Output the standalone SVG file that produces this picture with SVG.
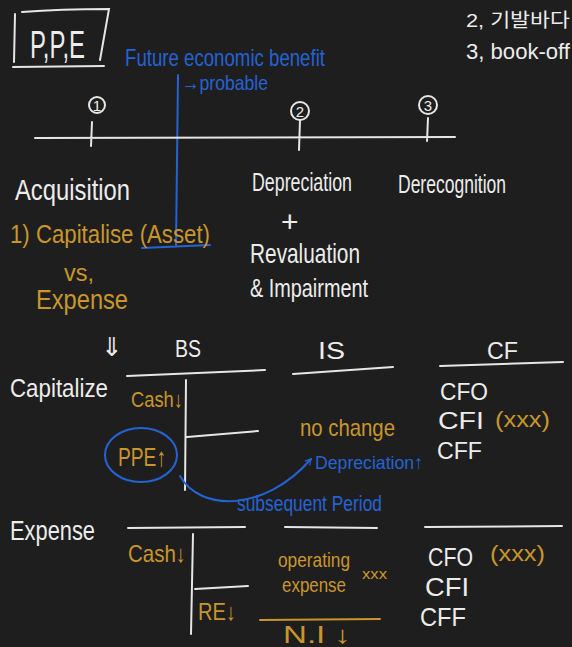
<svg xmlns="http://www.w3.org/2000/svg" width="572" height="647" viewBox="0 0 572 647">
<style>
text{font-family:"Liberation Sans","DejaVu Sans","Noto Sans CJK KR",sans-serif;}
.w{fill:#ececec}
.g{fill:#c9962c}
.b{fill:#2563d4}
.lw{stroke:#e6e6e6;stroke-width:2;fill:none;stroke-linecap:round}
.lb{stroke:#2563d4;stroke-width:2;fill:none;stroke-linecap:round}
.lg{stroke:#c9962c;stroke-width:2;fill:none;stroke-linecap:round}
</style>
<defs>
<marker id="ah" viewBox="0 0 10 10" refX="8" refY="5" markerWidth="8" markerHeight="8" orient="auto" markerUnits="userSpaceOnUse">
<path d="M1 1 L8 5 L1 9" fill="none" stroke="#2563d4" stroke-width="1.5"/>
</marker>
</defs>
<rect width="572" height="647" fill="#1e1e1e"/>

<g id="title">
<path class="lw" d="M15 14 L14 62 M22 12 Q60 9 109 9 L100 60 M13 67 L104 66"/>
<text class="w" x="30" y="58" font-size="38" textLength="55" lengthAdjust="spacingAndGlyphs">P,P,E</text>
</g>

<g id="notes-top-right">
<text class="w" x="466" y="27" font-size="19" textLength="104" lengthAdjust="spacingAndGlyphs">2, 기발바다</text>
<text class="w" x="466" y="59" font-size="22" textLength="104" lengthAdjust="spacingAndGlyphs">3, book-off</text>
</g>

<g id="future-benefit">
<text class="b" x="125" y="66" font-size="24" textLength="200" lengthAdjust="spacingAndGlyphs">Future economic benefit</text>
<text class="b" x="182" y="90" font-size="21" textLength="86" lengthAdjust="spacingAndGlyphs">→probable</text>
<path class="lb" d="M178 75 L176 246 M142 248 L210 245"/>
</g>

<g id="timeline">
<path class="lw" d="M35 138 L455 137 M92 122 L91 146 M300 120 L299 150 M428 118 L427 141"/>
<circle cx="97" cy="105" r="8" class="lw"/>
<text class="w" x="97" y="111" font-size="15" text-anchor="middle">1</text>
<circle cx="300" cy="111" r="9" class="lw"/>
<text class="w" x="300" y="117" font-size="15" text-anchor="middle">2</text>
<circle cx="428" cy="105" r="9" class="lw"/>
<text class="w" x="428" y="111" font-size="15" text-anchor="middle">3</text>
</g>

<g id="acquisition">
<text class="w" x="15" y="200" font-size="30" textLength="115" lengthAdjust="spacingAndGlyphs">Acquisition</text>
<text class="g" x="10" y="243" font-size="26" textLength="200" lengthAdjust="spacingAndGlyphs">1) Capitalise (Asset)</text>
<text class="g" x="64" y="281" font-size="24" textLength="30" lengthAdjust="spacingAndGlyphs">vs,</text>
<text class="g" x="36" y="309" font-size="28" textLength="92" lengthAdjust="spacingAndGlyphs">Expense</text>
<text class="w" x="101" y="356" font-size="26">⇓</text>
</g>

<g id="depreciation">
<text class="w" x="252" y="191" font-size="26" textLength="100" lengthAdjust="spacingAndGlyphs">Depreciation</text>
<text class="w" x="281" y="232" font-size="30">+</text>
<text class="w" x="250" y="263" font-size="28" textLength="110" lengthAdjust="spacingAndGlyphs">Revaluation</text>
<text class="w" x="250" y="297" font-size="26" textLength="118" lengthAdjust="spacingAndGlyphs">&amp; Impairment</text>
</g>

<g id="derecognition">
<text class="w" x="398" y="193" font-size="26" textLength="108" lengthAdjust="spacingAndGlyphs">Derecognition</text>
</g>

<g id="headers">
<text class="w" x="175" y="357" font-size="24" textLength="26" lengthAdjust="spacingAndGlyphs">BS</text>
<text class="w" x="318" y="359" font-size="24" textLength="27" lengthAdjust="spacingAndGlyphs">IS</text>
<text class="w" x="487" y="359" font-size="24" textLength="31" lengthAdjust="spacingAndGlyphs">CF</text>
</g>

<g id="capitalize">
<text class="w" x="10" y="397" font-size="26" textLength="98" lengthAdjust="spacingAndGlyphs">Capitalize</text>
<path class="lw" d="M127 376 L265 370 M186 380 L185 490 M187 437 L258 431 M293 374 L393 367 M440 366 L563 362"/>
<text class="g" x="131" y="407" font-size="22" textLength="52" lengthAdjust="spacingAndGlyphs">Cash↓</text>
<text class="g" x="118" y="466" font-size="26" textLength="48" lengthAdjust="spacingAndGlyphs">PPE↑</text>
<ellipse class="lb" cx="141" cy="455" rx="36" ry="27"/>
<text class="g" x="300" y="436" font-size="24" textLength="95" lengthAdjust="spacingAndGlyphs">no change</text>
<text class="b" x="315" y="469" font-size="19" textLength="108" lengthAdjust="spacingAndGlyphs">Depreciation↑</text>
<text class="w" x="440" y="400" font-size="24" textLength="48" lengthAdjust="spacingAndGlyphs">CFO</text>
<text class="w" x="438" y="429" font-size="24" textLength="46" lengthAdjust="spacingAndGlyphs">CFI</text>
<text class="g" x="495" y="427" font-size="22" textLength="55" lengthAdjust="spacingAndGlyphs">(xxx)</text>
<text class="w" x="437" y="459" font-size="24" textLength="45" lengthAdjust="spacingAndGlyphs">CFF</text>
</g>

<g id="connectors">
<path class="lb" d="M180 476 C200 512, 265 512, 311 459" marker-end="url(#ah)"/>
</g>

<g id="subsequent">
<text class="b" x="237" y="511" font-size="22" textLength="145" lengthAdjust="spacingAndGlyphs">subsequent Period</text>
</g>

<g id="expense">
<text class="w" x="10" y="540" font-size="28" textLength="85" lengthAdjust="spacingAndGlyphs">Expense</text>
<path class="lw" d="M128 528 L245 527 M193 534 L191 634 M195 589 L248 586 M285 527 L377 528 M425 527 L562 526"/>
<path class="lg" d="M260 620 L380 619"/>
<text class="g" x="128" y="562" font-size="24" textLength="58" lengthAdjust="spacingAndGlyphs">Cash↓</text>
<text class="g" x="198" y="620" font-size="24" textLength="38" lengthAdjust="spacingAndGlyphs">RE↓</text>
<text class="g" x="278" y="567" font-size="21" textLength="72" lengthAdjust="spacingAndGlyphs">operating</text>
<text class="g" x="282" y="592" font-size="21" textLength="64" lengthAdjust="spacingAndGlyphs">expense</text>
<text class="g" x="362" y="579" font-size="14" textLength="25" lengthAdjust="spacingAndGlyphs">xxx</text>
<text class="g" x="283" y="643" font-size="24" textLength="68" lengthAdjust="spacingAndGlyphs">N.I ↓</text>
<text class="w" x="428" y="566" font-size="25" textLength="45" lengthAdjust="spacingAndGlyphs">CFO</text>
<text class="g" x="490" y="561" font-size="22" textLength="55" lengthAdjust="spacingAndGlyphs">(xxx)</text>
<text class="w" x="425" y="596" font-size="25" textLength="44" lengthAdjust="spacingAndGlyphs">CFI</text>
<text class="w" x="420" y="626" font-size="25" textLength="46" lengthAdjust="spacingAndGlyphs">CFF</text>
</g>
</svg>
